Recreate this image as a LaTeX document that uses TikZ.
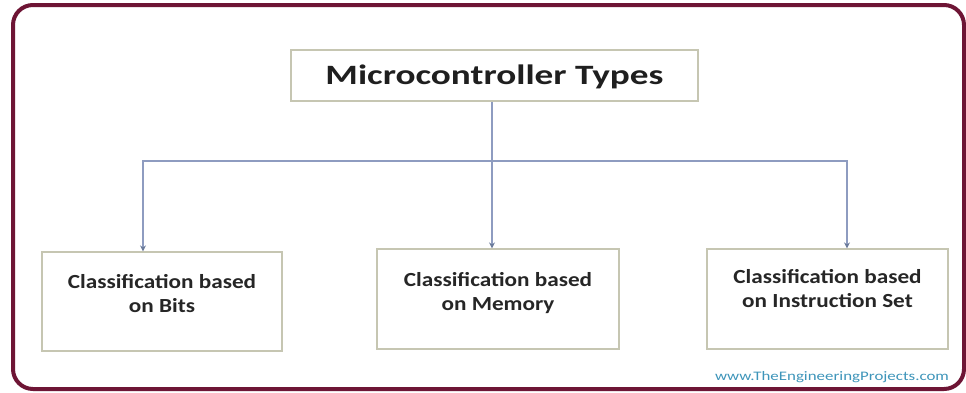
\documentclass[tikz,border=0pt]{standalone}
\usepackage{fontspec}
\setmainfont{Carlito}
\usetikzlibrary{arrows.meta}
\definecolor{frame}{HTML}{6E1535}
\definecolor{boxline}{HTML}{C6C6B2}
\definecolor{conn}{HTML}{8E9CC0}
\definecolor{tipc}{HTML}{6B7B9B}
\definecolor{wm}{HTML}{3E95BA}
\newcommand{\wideboxtext}[1]{\scalebox{1.16}[1]{\begin{tabular}{@{}c@{}}#1\end{tabular}}}
\tikzset{
  box/.style={draw=boxline, line width=1.2pt, fill=white, inner sep=0pt},
  boxtxt/.style={font=\bfseries\fontsize{20}{24}\selectfont, text=black!85, inner sep=0pt},
  titletxt/.style={font=\bfseries\fontsize{28}{32}\selectfont, text=black!88, inner sep=0pt},
  connline/.style={draw=conn, line width=1.3pt, -{Stealth[length=6pt,width=6pt,color=tipc]}},
}
\begin{document}
\begin{tikzpicture}[x=1pt,y=-1pt]
\useasboundingbox (0,0) rectangle (966,392);
\fill[white] (0,0) rectangle (966,392);
\draw[frame, line width=4pt, rounded corners=20pt] (13,5) rectangle (964,389);
% boxes
\node[box, minimum width=407pt, minimum height=51pt] (top) at (494.5,75.5) {};
\node[titletxt] (topT) at ([yshift=-1pt]top.center) {\scalebox{1.33}[1]{Microcontroller Types}};
\node[box, minimum width=240pt, minimum height=99pt] (left) at (162,301.5) {};
\node[box, minimum width=242pt, minimum height=100pt] (mid) at (498,299) {};
\node[box, minimum width=241pt, minimum height=100pt] (right) at (827.5,299) {};
\node[boxtxt] (leftT) at ([yshift=6pt]left.center) {\wideboxtext{Classification based\\on Bits}};
\node[boxtxt] (midT) at ([yshift=5pt]mid.center) {\wideboxtext{Classification based\\on Memory}};
\node[boxtxt] (rightT) at ([yshift=8pt]right.center) {\wideboxtext{Classification based\\on Instruction Set}};
% connectors
\coordinate (j) at (492,161);
\coordinate (lx) at (143,0);
\coordinate (rx) at (847,0);
\draw[connline] (top.south -| j) -- (j |- mid.north);
\draw[connline] (j) -| (lx |- left.north);
\draw[connline] (j) -| (rx |- right.north);
% watermark
\node[font=\fontsize{13}{15}\selectfont, text=wm, inner sep=0pt] (wmark) at (832,377) {\scalebox{1.3}[1]{www.TheEngineeringProjects.com}};
\end{tikzpicture}
\end{document}
